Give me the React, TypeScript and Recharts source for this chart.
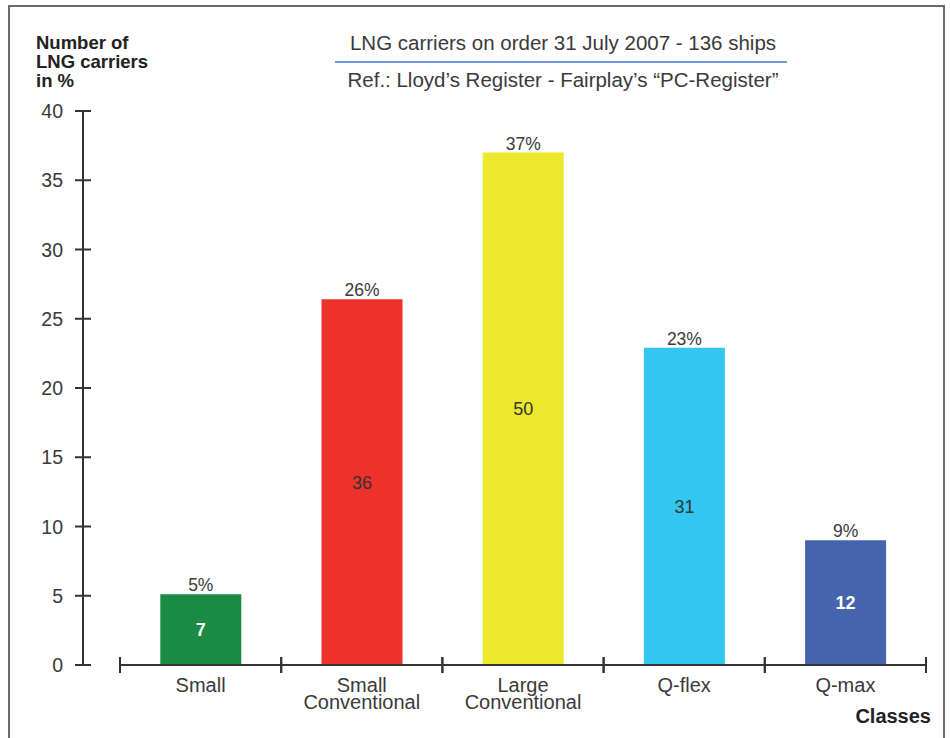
import { Bar, BarChart, Cell, LabelList, XAxis, YAxis } from 'recharts';

const categories = ['Small', 'Small Conventional', 'Large Conventional', 'Q-flex', 'Q-max'];
const sharePct = [5.1, 26.4, 37.0, 22.9, 9.0];
const shipCounts = [7, 36, 50, 31, 12];
const yTicks = [0, 5, 10, 15, 20, 25, 30, 35, 40];

const barColors = ['#1a8a45', '#ee312b', '#ece82b', '#32c6f1', '#4664ae'];
const lightInner = [true, false, false, false, true];

const data = categories.map((name, i) => ({ name, pct: sharePct[i], count: shipCounts[i] }));

const W = 950;
const H = 738;
const PLOT_TOP = 111;
const PLOT_RIGHT = 926;
const Y_AXIS_W = 83;
const X_AXIS_H = 73;
const X_PAD_LEFT = 37;
const BAND = (PLOT_RIGHT - Y_AXIS_W - X_PAD_LEFT) / categories.length;

const FONT = '"Liberation Sans", Arial, sans-serif';
const INK = '#333';
const TXT = '#3a3a3a';

function YTick(props: any) {
  const { x, y, payload } = props;
  return (
    <g>
      <line x1={x - 8} x2={x + 8} y1={y} y2={y} stroke={INK} strokeWidth={2} />
      <text x={x - 20} y={y} dy="0.36em" textAnchor="end" fill={TXT} fontSize={19.5} fontFamily={FONT}>
        {payload.value}
      </text>
    </g>
  );
}

function XTick(props: any) {
  const { x, y, payload } = props;
  const lines = String(payload.value).split(' ');
  const l = x - BAND / 2;
  const r = x + BAND / 2;
  return (
    <g>
      <line x1={l} x2={r} y1={y} y2={y} stroke={INK} strokeWidth={2} />
      <line x1={l} x2={l} y1={y - 8} y2={y + 8} stroke={INK} strokeWidth={2} />
      <line x1={r} x2={r} y1={y - 8} y2={y + 8} stroke={INK} strokeWidth={2} />
      <text x={x} y={y + 27} textAnchor="middle" fill={TXT} fontSize={20} fontFamily={FONT}>
        {lines.map((t, i) => (
          <tspan key={t} x={x} dy={i === 0 ? 0 : 16.5}>
            {t}
          </tspan>
        ))}
      </text>
    </g>
  );
}

function InnerLabel(props: any) {
  const { x, y, width, height, value, index } = props;
  const light = lightInner[index];
  return (
    <text
      x={x + width / 2}
      y={y + height / 2}
      dy="0.36em"
      textAnchor="middle"
      fill={light ? '#fff' : '#333'}
      fontWeight={light ? 700 : 400}
      fontSize={18}
      fontFamily={FONT}
    >
      {value}
    </text>
  );
}

export default function App() {
  return (
    <div style={{ position: 'absolute', left: 0, top: 0, width: W, height: H, background: '#fff', overflow: 'hidden', fontFamily: FONT }}>
      <div
        style={{
          position: 'absolute',
          left: 8,
          top: 5,
          width: 933,
          height: 760,
          borderLeft: '2px solid #6b6b6b',
          borderTop: '2px solid #6b6b6b',
          borderRight: '2px solid #6b6b6b',
        }}
      />
      <BarChart
        width={W}
        height={H}
        data={data}
        margin={{ top: PLOT_TOP, right: W - PLOT_RIGHT, bottom: 0, left: 0 }}
        barCategoryGap="25%"
        style={{ position: 'absolute', left: 0, top: 0 }}
      >
        <XAxis
          dataKey="name"
          height={X_AXIS_H}
          padding={{ left: X_PAD_LEFT, right: 0 }}
          axisLine={false}
          tickLine={false}
          tickSize={0}
          tickMargin={0}
          interval={0}
          tick={<XTick />}
        />
        <YAxis
          width={Y_AXIS_W}
          domain={[0, 40]}
          ticks={yTicks}
          interval={0}
          axisLine={{ stroke: INK, strokeWidth: 2 }}
          tickLine={false}
          tickSize={0}
          tickMargin={0}
          tick={<YTick />}
        />
        <Bar dataKey="pct" isAnimationActive={false}>
          {data.map((d, i) => (
            <Cell key={d.name} fill={barColors[i]} />
          ))}
          <LabelList
            dataKey="pct"
            position="top"
            offset={3}
            formatter={(v: any) => `${Math.round(Number(v))}%`}
            fill={TXT}
            fontSize={17.5}
            fontFamily={FONT}
          />
          <LabelList dataKey="count" content={<InnerLabel />} />
        </Bar>
      </BarChart>
      <svg width={W} height={H} style={{ position: 'absolute', left: 0, top: 0, pointerEvents: 'none' }}>
        <g fontFamily={FONT} fontWeight={700} fontSize={18.5} fill="#222">
          <text x={36} y={49}>Number of</text>
          <text x={36} y={67.5}>LNG carriers</text>
          <text x={36} y={86.5}>in %</text>
        </g>
        <text x={563} y={50} textAnchor="middle" fontFamily={FONT} fontSize={20.5} fill={TXT}>
          LNG carriers on order 31 July 2007 - 136 ships
        </text>
        <line x1={335} x2={787} y1={62} y2={62} stroke="#6f9be0" strokeWidth={2} />
        <text x={563} y={87} textAnchor="middle" fontFamily={FONT} fontSize={20.5} fill={TXT}>
          Ref.: Lloyd’s Register - Fairplay’s “PC-Register”
        </text>
        <text x={931} y={723} textAnchor="end" fontFamily={FONT} fontWeight={700} fontSize={20} fill="#222">
          Classes
        </text>
      </svg>
    </div>
  );
}
